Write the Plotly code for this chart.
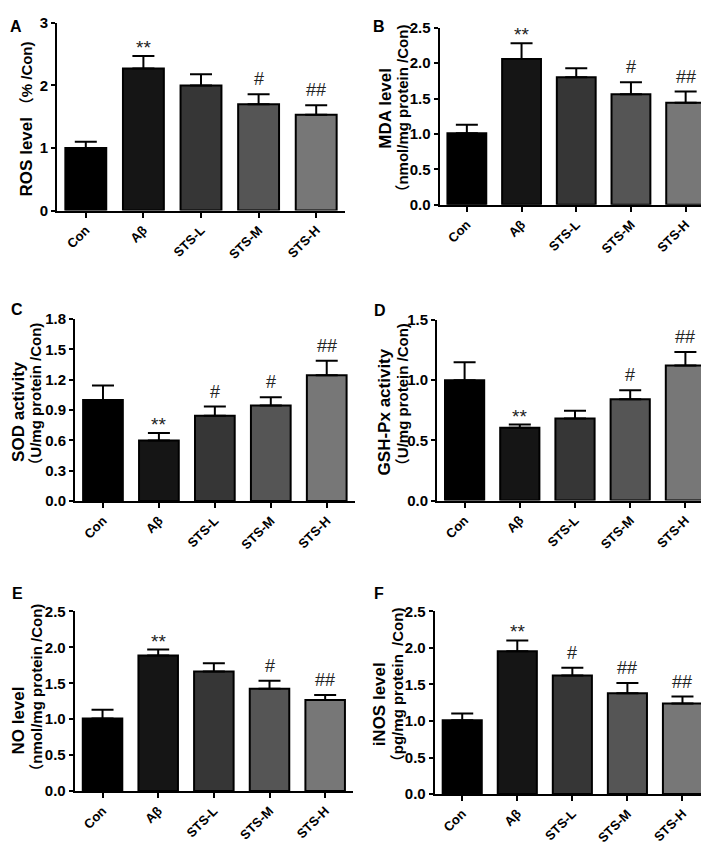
import plotly.graph_objects as go

W, H = 709, 844
FONT = "Arial, 'Liberation Sans', 'Noto Sans CJK SC', sans-serif"

categories = ["Con", "Aβ", "STS-L", "STS-M", "STS-H"]
bar_colors = ["#000000", "#151515", "#363636", "#555555", "#777777"]

# Panel A: ROS
ros_mean = [1.00, 2.27, 2.00, 1.70, 1.53]
ros_err = [0.10, 0.20, 0.18, 0.16, 0.155]
ros_marks = ["", "**", "", "#", "##"]
# Panel B: MDA
mda_mean = [1.01, 2.06, 1.80, 1.56, 1.44]
mda_err = [0.12, 0.22, 0.13, 0.17, 0.16]
mda_marks = ["", "**", "", "#", "##"]
# Panel C: SOD
sod_mean = [1.00, 0.60, 0.845, 0.945, 1.245]
sod_err = [0.144, 0.072, 0.09, 0.081, 0.143]
sod_marks = ["", "**", "#", "#", "##"]
# Panel D: GSH-Px
gsh_mean = [1.00, 0.605, 0.683, 0.841, 1.123]
gsh_err = [0.15, 0.027, 0.063, 0.076, 0.111]
gsh_marks = ["", "**", "", "#", "##"]
# Panel E: NO
no_mean = [1.01, 1.886, 1.664, 1.423, 1.268]
no_err = [0.121, 0.084, 0.116, 0.113, 0.068]
no_marks = ["", "**", "", "#", "##"]
# Panel F: iNOS
inos_mean = [1.01, 1.957, 1.624, 1.379, 1.241]
inos_err = [0.093, 0.147, 0.106, 0.141, 0.093]
inos_marks = ["", "**", "#", "##", "##"]

panel_letters = ["A", "B", "C", "D", "E", "F"]
y_title1 = ["ROS level", "MDA level", "SOD activity", "GSH-Px activity", "NO level", "iNOS level"]
y_title2 = ["（% /Con)", "（nmol/mg protein /Con)", "（U/mg protein /Con)",
            "（U/mg protein /Con)", "（nmol/mg protein /Con)", "（pg/mg protein  /Con)"]
y_max = [3.0, 2.5, 1.8, 1.5, 2.5, 2.5]
y_dtick = [1.0, 0.5, 0.3, 0.5, 0.5, 0.5]
y_fmt = ["d", ".1f", ".1f", ".1f", ".1f", ".1f"]

means = [ros_mean, mda_mean, sod_mean, gsh_mean, no_mean, inos_mean]
errs = [ros_err, mda_err, sod_err, gsh_err, no_err, inos_err]
marks = [ros_marks, mda_marks, sod_marks, gsh_marks, no_marks, inos_marks]

# layout boxes in pixels: x0, x1, ytop, ybottom
boxes = [
    (49, 337, 6, 197.5),
    (431.5, 705, 11, 191.7),
    (67, 346.7, 308.3, 494),
    (429, 705, 309.3, 493.5),
    (66.7, 345, 606.7, 790),
    (426.7, 702, 606.7, 793),
]
letter_pos = [(8, 10), (371, 10), (9, 299), (371.5, 300), (9, 588.5), (371, 588.5)]
# (line1 x, line1 y, line2 x, line2 y)
title_pos = [
    (18.5, 104, None, None),
    (377.5, 93, 394.5, 97),
    (11, 403, 27.5, 389),
    (376.5, 403, 394, 389),
    (11, 718, 28.5, 688),
    (371.5, 702, 389, 685),
]

def px(x):
    return x / W

def py(y):
    return 1 - y / H

fig = go.Figure()
layout = dict(
    width=W, height=H, margin=dict(l=0, r=0, t=0, b=0),
    paper_bgcolor="white", plot_bgcolor="white", showlegend=False,
    font=dict(family=FONT, color="black"),
)
annotations = []

for i in range(6):
    n = "" if i == 0 else str(i + 1)
    xa, ya = "x" + n, "y" + n
    x0, x1, yt, yb = boxes[i]
    fig.add_trace(go.Bar(
        x=categories, y=means[i], xaxis=xa, yaxis=ya,
        width=0.71,
        marker=dict(color=bar_colors, line=dict(color="black", width=2)),
        error_y=dict(type="data", symmetric=False, array=errs[i],
                     arrayminus=[0] * 5, color="black", thickness=2, width=11),
        hoverinfo="skip",
    ))
    layout["xaxis" + n] = dict(
        domain=[px(x0), px(x1)], anchor=ya, range=[-0.5, 4.5],
        showline=True, linecolor="black", linewidth=2,
        ticks="outside", ticklen=5, tickwidth=1.5, tickcolor="black",
        tickangle=-45, tickfont=dict(family=FONT, size=13, weight="bold"),
        showgrid=False, zeroline=False, fixedrange=True,
    )
    layout["yaxis" + n] = dict(
        domain=[py(yb), py(yt)], anchor=xa, range=[0, y_max[i]],
        dtick=y_dtick[i], tick0=0, tickformat=y_fmt[i],
        showline=True, linecolor="black", linewidth=2,
        ticks="outside", ticklen=4, tickwidth=1.5, tickcolor="black",
        tickfont=dict(family=FONT, size=15, weight="bold"),
        showgrid=False, zeroline=False, fixedrange=True,
    )
    # significance marks
    for j, m in enumerate(marks[i]):
        if not m:
            continue
        star = m.startswith("*")
        annotations.append(dict(
            x=categories[j], y=means[i][j] + errs[i][j], xref=xa, yref=ya,
            text=m, showarrow=False, yanchor="bottom", xanchor="center",
            yshift=-4 if star else 3,
            font=dict(family=FONT, size=19 if star else 18, color="#222222"),
        ))
    # panel letter
    lx, ly = letter_pos[i]
    annotations.append(dict(
        x=px(lx), y=py(ly), xref="paper", yref="paper",
        text="<b>" + panel_letters[i] + "</b>", showarrow=False,
        xanchor="center", yanchor="middle",
        font=dict(family=FONT, size=16, color="black"),
    ))
    # y titles
    t1x, t1y, t2x, t2y = title_pos[i]
    if t2x is None:
        annotations.append(dict(
            x=px(t1x), y=py(t1y), xref="paper", yref="paper",
            text="<b>" + y_title1[i] + "</b> <span style='font-size:15px'><b>"
                 + y_title2[i] + "</b></span>",
            showarrow=False, textangle=-90, xanchor="center", yanchor="middle",
            font=dict(family=FONT, size=17, color="black"),
        ))
    else:
        annotations.append(dict(
            x=px(t1x), y=py(t1y), xref="paper", yref="paper",
            text="<b>" + y_title1[i] + "</b>",
            showarrow=False, textangle=-90, xanchor="center", yanchor="middle",
            font=dict(family=FONT, size=17, color="black"),
        ))
        annotations.append(dict(
            x=px(t2x), y=py(t2y), xref="paper", yref="paper",
            text="<b>" + y_title2[i] + "</b>",
            showarrow=False, textangle=-90, xanchor="center", yanchor="middle",
            font=dict(family=FONT, size=15, color="black"),
        ))

layout["annotations"] = annotations
fig.update_layout(**layout)
fig.write_html("out.html")
